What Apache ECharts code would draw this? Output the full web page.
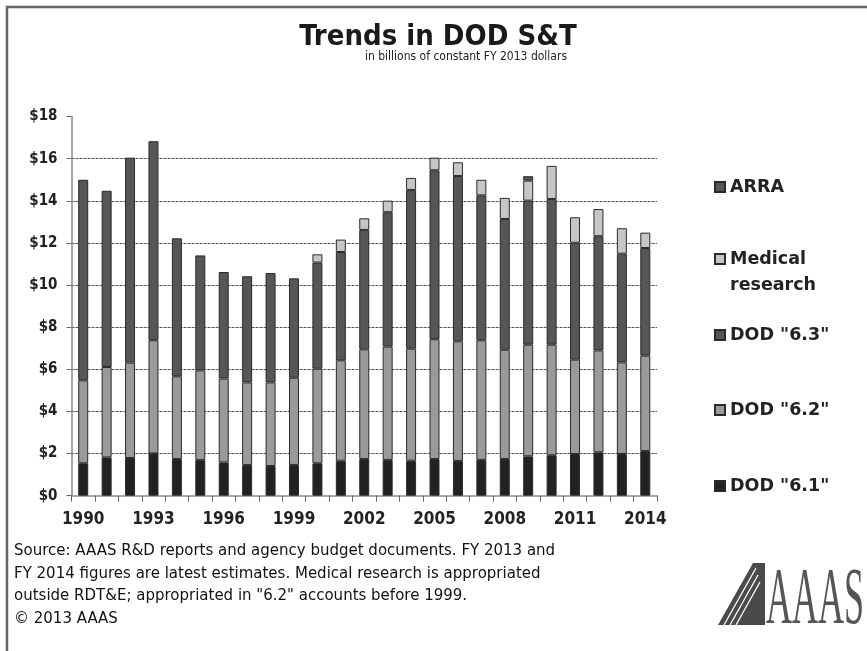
<!DOCTYPE html>
<html>
<head>
<meta charset="utf-8">
<script src="https://cdn.jsdelivr.net/npm/echarts@6/dist/echarts.min.js"></script>
<style>
html,body{margin:0;padding:0;background:#fff;}
#chart{width:867px;height:651px;}
</style>
</head>
<body>
<div id="chart"></div>
<script>
// ---- data ----
const years = ['1990','1991','1992','1993','1994','1995','1996','1997','1998','1999','2000','2001','2002','2003','2004','2005','2006','2007','2008','2009','2010','2011','2012','2013','2014'];
const dod61 = [1.54,1.82,1.79,2.01,1.74,1.69,1.58,1.46,1.41,1.46,1.54,1.66,1.74,1.70,1.66,1.74,1.65,1.70,1.74,1.87,1.92,1.98,2.06,1.98,2.12];
const dod62 = [3.94,4.29,4.53,5.37,3.93,4.26,3.98,3.92,3.97,4.14,4.49,4.77,5.21,5.38,5.32,5.69,5.68,5.68,5.19,5.30,5.25,4.48,4.84,4.35,4.53];
const dod63 = [9.52,8.37,9.73,9.45,6.55,5.46,5.06,5.04,5.19,4.72,5.04,5.14,5.67,6.38,7.54,8.02,7.85,6.88,6.21,6.84,6.92,5.55,5.42,5.16,5.11];
const medical = [null,null,null,null,null,null,null,null,null,null,0.39,0.59,0.55,0.55,0.57,0.60,0.65,0.74,1.00,0.95,1.57,1.21,1.29,1.21,0.73];
const arra = [null,null,null,null,null,null,null,null,null,null,null,null,null,null,null,null,null,null,null,0.21,null,null,null,null,null];
const seriesNames = ['DOD "6.1"','DOD "6.2"','DOD "6.3"','Medical research','ARRA'];
const titleText = 'Trends in DOD S&T';
const subtitleText = 'in billions of constant FY 2013 dollars';
const footerLines = [
  'Source: AAAS R&D reports and agency budget documents. FY 2013 and',
  'FY 2014 figures are latest estimates. Medical research is appropriated',
  'outside RDT&E; appropriated in "6.2" accounts before 1999.',
  '\u00A9 2013 AAAS'
];

const FONT = "'DejaVu Sans Condensed','DejaVu Sans',sans-serif";
const FONT_WIDE = "'DejaVu Sans',sans-serif";
const colors = ['#222222','#9a9a9a','#565656','#c6c6c6','#555555'];
const seriesData = [dod61, dod62, dod63, medical, arra];

const chart = echarts.init(document.getElementById('chart'), null, {renderer:'canvas'});

const series = seriesNames.map((n,i)=>({
  name: n,
  type: 'bar',
  stack: 'total',
  barWidth: 10,
  data: seriesData[i],
  itemStyle: {color: colors[i], borderColor: '#2a2a2a', borderWidth: 1},
  emphasis: {disabled: true}
}));

const legendText = {fontFamily: FONT_WIDE, fontWeight: 'bold', fontSize: 17.5, color: '#222', lineHeight: 26};
function legendFor(name, top, extra) {
  return Object.assign({
    data: [name],
    left: 714,
    top: top,
    padding: 0,
    orient: 'vertical',
    icon: 'rect',
    itemWidth: 10,
    itemHeight: 10,
    selectedMode: false,
    textStyle: legendText
  }, extra || {});
}

const option = {
  backgroundColor: '#ffffff',
  animation: false,
  color: colors,
  grid: {left: 71.5, right: 210, top: 116.6, bottom: 155.3, containLabel: false},
  xAxis: {
    type: 'category',
    data: years,
    boundaryGap: true,
    axisLine: {lineStyle: {color: '#8a8a8a', width: 1.5}},
    axisTick: {show: true, interval: 0, length: 6, lineStyle: {color: '#666'}},
    axisLabel: {interval: 2, fontFamily: FONT, fontWeight: 'bold', fontSize: 17, color: '#222', margin: 15}
  },
  yAxis: {
    type: 'value',
    min: 0, max: 18, interval: 2,
    axisLine: {show: true, lineStyle: {color: '#8a8a8a', width: 1.5}},
    axisTick: {show: true, length: 5, lineStyle: {color: '#666'}},
    axisLabel: {formatter: v => '$' + v, fontFamily: FONT, fontWeight: 'bold', fontSize: 15, color: '#222', margin: 14},
    splitLine: {show: true, showMinLine: false, showMaxLine: false, lineStyle: {type: [3,1], color: '#555', width: 1}}
  },
  legend: [
    legendFor('ARRA', 174),
    legendFor('Medical research', 220, {formatter: () => '\nMedical\nresearch'}),
    legendFor('DOD "6.3"', 322),
    legendFor('DOD "6.2"', 397),
    legendFor('DOD "6.1"', 473)
  ],
  series: series,
  graphic: [
    {type: 'rect', shape: {x: 7, y: 7, width: 900, height: 700}, style: {fill: 'none', stroke: '#666', lineWidth: 2.5}, silent: true},
    {type: 'text', x: 438, y: 37, style: {text: titleText, textAlign: 'center', textVerticalAlign: 'middle', font: "bold 29px " + FONT, fill: '#1a1a1a'}},
    {type: 'text', x: 466, y: 57, style: {text: subtitleText, textAlign: 'center', textVerticalAlign: 'middle', font: "12px " + FONT, fill: '#222'}},
    ...footerLines.map((t,i)=>({type: 'text', x: 14, y: 551 + i*22.7, style: {text: t, textAlign: 'left', textVerticalAlign: 'middle', font: "15px " + FONT_WIDE, fill: '#111'}})),
    // logo mark
    {type: 'polygon', shape: {points: [[718,625],[753,563],[765,563],[765,625]]}, style: {fill: '#4a4a4a'}},
    {type: 'polyline', shape: {points: [[724,625],[756,568]]}, style: {stroke: '#fff', lineWidth: 1.3}},
    {type: 'polyline', shape: {points: [[730,625],[758,575]]}, style: {stroke: '#fff', lineWidth: 1.3}},
    {type: 'polyline', shape: {points: [[736,625],[760,582]]}, style: {stroke: '#fff', lineWidth: 1.3}},
    {type: 'text', x: 766, y: 642, scaleX: 0.45, style: {text: 'AAAS', textAlign: 'left', textVerticalAlign: 'bottom', font: "80px 'Liberation Serif', serif", fill: '#555'}}
  ]
};
chart.setOption(option);
</script>
</body>
</html>
